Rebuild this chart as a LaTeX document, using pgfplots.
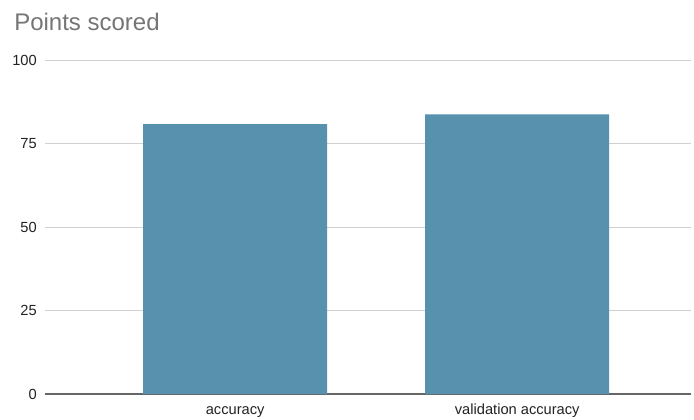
\documentclass[border=0pt]{standalone}
\usepackage{fontspec}
\setmainfont{Liberation Sans}
\usepackage{pgfplots}
\pgfplotsset{compat=1.18}
\definecolor{barcol}{HTML}{5891AD}
\definecolor{titlegray}{HTML}{757575}
\definecolor{gridgray}{HTML}{D0D0D0}
\definecolor{basegray}{HTML}{666666}
\definecolor{ticktext}{HTML}{222222}
\begin{document}
\begin{tikzpicture}
\useasboundingbox (0,0) rectangle (520.5pt,314.25pt);
\node[anchor=base west, inner sep=0pt, text=titlegray, font=\fontsize{18}{20}\selectfont] at (10.5pt,291pt) {Points scored};
\begin{axis}[
  at={(33.75pt,18.75pt)}, anchor=south west,
  scale only axis, width=484.5pt, height=250.5pt,
  xmin=-0.674, xmax=1.616, ymin=0, ymax=100,
  ytick={0,25,50,75,100},
  xtick={0,1}, xticklabels={accuracy, validation accuracy},
  axis line style={draw=none},
  major tick length=0pt,
  ymajorgrids, grid style={color=gridgray, line width=0.75pt},
  extra y ticks={0}, extra y tick labels={},
  extra y tick style={grid style={color=basegray, line width=1.1pt}},
  /pgf/number format/assume math mode=true,
  ticklabel style={font=\fontsize{11}{13}\selectfont, text=ticktext},
  yticklabel style={inner sep=0pt, xshift=-6pt},
  xticklabel style={anchor=base, inner sep=0pt, yshift=-15pt},
  ybar, bar width=138pt, bar shift=0pt,
  clip=false,
]
\addplot[fill=barcol, draw=none] coordinates {(0,80.8) (1,83.7)};
\end{axis}
\end{tikzpicture}
\end{document}
